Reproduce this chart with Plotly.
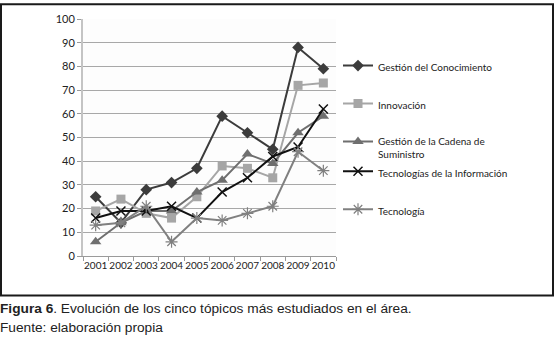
import plotly.graph_objects as go

years = ["2001", "2002", "2003", "2004", "2005", "2006", "2007", "2008", "2009", "2010"]
gestion_conocimiento = [25, 14, 28, 31, 37, 59, 52, 45, 88, 79]
innovacion = [19, 24, 18, 16, 25, 38, 37, 33, 72, 73]
cadena_suministro = [6, 14, 19, 19, 27, 32, 43, 39, 52, 59]
tecnologias_info = [16, 19, 19, 21, 16, 27, 33, 42, 46, 62]
tecnologia = [13, 14, 21, 6, 16, 15, 18, 21, 44, 36]
y_ticks = [0, 10, 20, 30, 40, 50, 60, 70, 80, 90, 100]

FONT = "Lato, Liberation Sans, sans-serif"

series = [
    ("Gestión del Conocimiento", gestion_conocimiento, "#3c3c3c", "diamond", 9, 0, "legend"),
    ("Innovación", innovacion, "#a6a6a6", "square", 9, 0, "legend"),
    ("Gestión de la Cadena de<br>Suministro", cadena_suministro, "#6f6f6f", "triangle-up", 10, 0, "legend"),
    ("Tecnologías de la Información", tecnologias_info, "#111111", "x-thin-open", 9, 1.5, "legend2"),
    ("Tecnología", tecnologia, "#808080", "asterisk-open", 10, 1.2, "legend2"),
]

fig = go.Figure()
for i, (name, vals, col, sym, size, lw, lg) in enumerate(series):
    marker = dict(symbol=sym, size=size, color=col)
    if lw:
        marker["line"] = dict(color=col, width=lw)
    fig.add_trace(go.Scatter(
        x=years, y=vals, name=name, mode="lines+markers",
        line=dict(color=col, width=2), marker=marker,
        legendgroup=f"g{i}", legend=lg,
    ))

PW, PH = 253, 240
def px_x(x):
    return (x - 83) / PW
def px_y(y):
    return (256 - y) / PH

leg_common = dict(
    xanchor="left", yanchor="top",
    font=dict(family=FONT, size=10, color="#222"),
    tracegroupgap=19, itemwidth=30, valign="top",
    bgcolor="rgba(0,0,0,0)",
)

fig.update_layout(
    width=555, height=340,
    margin=dict(l=83, r=219, t=16, b=84),
    paper_bgcolor="white", plot_bgcolor="#fdfdfd",
    font=dict(family=FONT, size=11, color="#222"),
    showlegend=True,
    legend=dict(x=px_x(338), y=px_y(50), **leg_common),
    legend2=dict(x=px_x(338), y=px_y(157), **leg_common),
    xaxis=dict(
        type="category", range=[-0.5, 9.5], tickangle=0,
        showgrid=False, showline=True, linecolor="#9a9a9a", linewidth=1,
        ticks="outside", tickson="boundaries", ticklen=4, tickcolor="#9a9a9a",
        tickfont=dict(family=FONT, size=10, color="#222"),
    ),
    yaxis=dict(
        range=[0, 100], tickvals=y_ticks,
        showgrid=True, gridcolor="#a8a8a8", gridwidth=1,
        showline=True, linecolor="#c4c4c4", linewidth=2,
        ticks="outside", ticklen=4, tickcolor="#9a9a9a",
        tickfont=dict(family=FONT, size=11, color="#222"),
        zeroline=False,
    ),
)

# outer frame around the chart
fig.add_shape(type="rect", xref="paper", yref="paper",
              x0=px_x(1), x1=px_x(553), y0=px_y(296), y1=px_y(1),
              line=dict(color="#1a1a1a", width=2), fillcolor="rgba(0,0,0,0)", layer="below")

cap_font = dict(family="Liberation Sans, Arial, sans-serif", size=13.7, color="#222")
fig.add_annotation(xref="paper", yref="paper", x=px_x(-2), y=px_y(309),
                   xanchor="left", yanchor="middle", showarrow=False,
                   text="<b>Figura 6</b>. Evolución de los cinco tópicos más estudiados en el área.",
                   font=cap_font)
fig.add_annotation(xref="paper", yref="paper", x=px_x(-2), y=px_y(328),
                   xanchor="left", yanchor="middle", showarrow=False,
                   text="Fuente: elaboración propia", font=cap_font)

fig.write_html("out.html", config={"displayModeBar": False},
               post_script="document.body.style.margin='0';")
